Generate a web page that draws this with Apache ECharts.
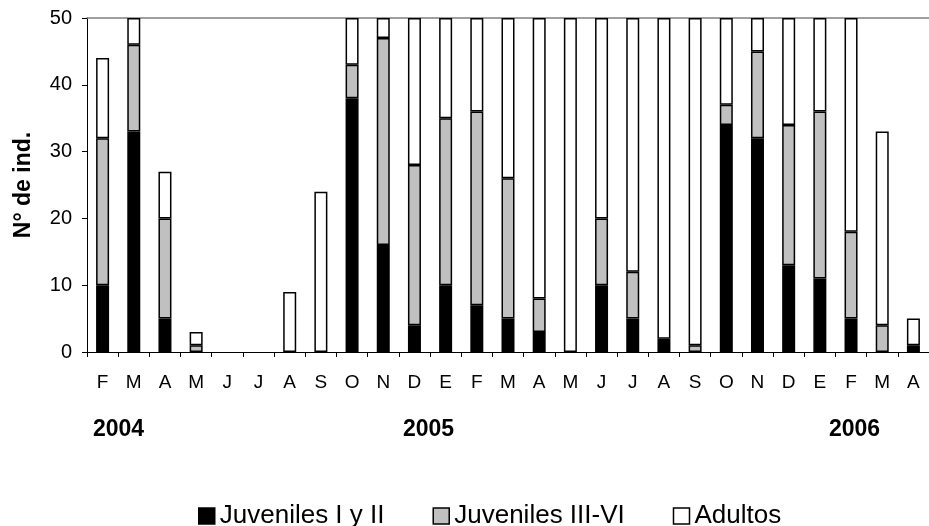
<!DOCTYPE html>
<html>
<head>
<meta charset="utf-8">
<script src="https://cdn.jsdelivr.net/npm/echarts@6/dist/echarts.min.js"></script>
<style>
  html, body { margin: 0; padding: 0; background: #fff; }
  #main { width: 929px; height: 526px; }
</style>
</head>
<body>
<div id="main"></div>
<script>
// meses feb 2004 - abr 2006
var months = ['F','M','A','M','J','J','A','S','O','N','D','E','F','M','A','M','J','J','A','S','O','N','D','E','F','M','A'];
var juvI   = [10,33, 5, 0, 0, 0, 0, 0,38,16, 4,10, 7, 5, 3, 0,10, 5, 2, 0,34,32,13,11, 5, 0, 1];
var juvIII = [22,13,15, 1, 0, 0, 0, 0, 5,31,24,25,29,21, 5, 0,10, 7, 0, 1, 3,13,21,25,13, 4, 0];
var adultos= [12, 4, 7, 2, 0, 0, 9,24, 7, 3,22,15,14,24,42,50,30,38,48,49,13, 5,16,14,32,29, 4];
var yTicks = [0, 10, 20, 30, 40, 50];
var years = [
  { text: '2004', x: 93 },
  { text: '2005', x: 403 },
  { text: '2006', x: 829 }
];

var FONT = '"Liberation Sans", Arial, sans-serif';
var chart = echarts.init(document.getElementById('main'));

// los ceros no se dibujan
function sinCeros(arr) {
  return arr.map(function (v) { return v === 0 ? '-' : v; });
}

function serie(name, data, color) {
  return {
    name: name,
    type: 'bar',
    stack: 'total',
    data: sinCeros(data),
    barWidth: 13,
    itemStyle: { color: color, borderColor: '#000', borderWidth: 1.5 },
    emphasis: { disabled: true }
  };
}

var option = {
  animation: false,
  grid: { left: 87, top: 18, right: 0, bottom: 174, containLabel: false },
  legend: {
    top: 498,
    left: 193,
    itemWidth: 16,
    itemHeight: 16,
    itemGap: 48,
    icon: 'rect',
    textStyle: { fontFamily: FONT, fontSize: 26, color: '#000' },
    data: [
      { name: 'Juveniles I y II', itemStyle: { color: '#000', borderColor: '#000', borderWidth: 1.5 } },
      { name: 'Juveniles III-VI', itemStyle: { color: '#c0c0c0', borderColor: '#000', borderWidth: 1.5 } },
      { name: 'Adultos', itemStyle: { color: '#fff', borderColor: '#000', borderWidth: 1.5 } }
    ]
  },
  xAxis: [{
    type: 'category',
    data: months,
    axisLine: { lineStyle: { color: '#000', width: 1 } },
    axisTick: { show: true, length: 5, lineStyle: { color: '#000' } },
    axisLabel: { color: '#000', fontFamily: FONT, fontSize: 19, margin: 21, interval: 0 }
  }, {
    type: 'category',
    position: 'top',
    data: months,
    axisLine: { lineStyle: { color: '#808080', width: 1.5 } },
    axisTick: { show: false },
    axisLabel: { show: false }
  }],
  yAxis: {
    type: 'value',
    min: yTicks[0],
    max: yTicks[yTicks.length - 1],
    interval: 10,
    name: 'N° de ind.',
    nameLocation: 'middle',
    nameGap: 52,
    nameRotate: 90,
    nameTextStyle: { fontFamily: FONT, fontSize: 23, fontWeight: 'bold', color: '#000' },
    axisLine: { show: true, lineStyle: { color: '#000', width: 1 } },
    axisTick: { show: true, length: 5, lineStyle: { color: '#000' } },
    splitLine: { show: false },
    axisLabel: { color: '#000', fontFamily: FONT, fontSize: 20, margin: 15 }
  },
  graphic: years.map(function (y) {
    return {
      type: 'text',
      left: y.x,
      top: 418,
      style: { text: y.text, font: 'bold 23px ' + FONT, fill: '#000' }
    };
  }),
  series: [
    serie('Juveniles I y II', juvI, '#000'),
    serie('Juveniles III-VI', juvIII, '#c0c0c0'),
    serie('Adultos', adultos, '#fff')
  ]
};

chart.setOption(option);
</script>
</body>
</html>
